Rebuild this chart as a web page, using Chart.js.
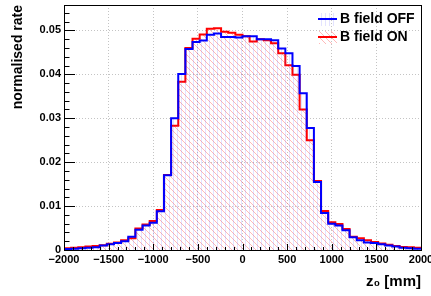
<!DOCTYPE html>
<html>
<head>
<meta charset="utf-8">
<script src="https://cdn.jsdelivr.net/npm/chart.js@4.4.0/dist/chart.umd.min.js"></script>
<style>
  html, body { margin: 0; padding: 0; background: #fff; }
  #wrap { width: 431px; height: 296px; position: relative; }
</style>
</head>
<body>
<div id="wrap"><canvas id="zChart"></canvas></div>
<script>
// Histogram binning (z0 in mm)
const zMin = -2000;
const zMax = 2000;
const binWidth = 80;

// Normalised rate per bin (50 bins)
const bFieldOff = [
  0.0002, 0.0003, 0.0004, 0.0005, 0.0006, 0.0010, 0.0013, 0.0016, 0.0020, 0.0030,
  0.0046, 0.0056, 0.0062, 0.0088, 0.0170, 0.0300, 0.0401, 0.0458, 0.0474, 0.0477,
  0.0490, 0.0493, 0.0485, 0.0485, 0.0484, 0.0487, 0.0487, 0.0480, 0.0480, 0.0478,
  0.0459, 0.0448, 0.0419, 0.0357, 0.0278, 0.0155, 0.0084, 0.0060, 0.0056, 0.0045,
  0.0029, 0.0022, 0.0017, 0.0016, 0.0013, 0.0010, 0.0008, 0.0005, 0.0004, 0.0003
];
const bFieldOn = [
  0.0004, 0.0005, 0.0006, 0.0008, 0.0009, 0.0011, 0.0014, 0.0017, 0.0022, 0.0027,
  0.0049, 0.0058, 0.0066, 0.0091, 0.0171, 0.0283, 0.0383, 0.0460, 0.0481, 0.0491,
  0.0504, 0.0505, 0.0497, 0.0495, 0.0490, 0.0487, 0.0475, 0.0480, 0.0478, 0.0471,
  0.0448, 0.0421, 0.0399, 0.0320, 0.0250, 0.0157, 0.0089, 0.0063, 0.0059, 0.0048,
  0.0030, 0.0027, 0.0022, 0.0018, 0.0015, 0.0012, 0.0009, 0.0007, 0.0006, 0.0005
];
const seriesLabels = ['B field OFF', 'B field ON'];

// Axis ticks
const xMajor = 500, xMinor = 100;
const yMax = 0.0558, yMajor = 0.01, yMinor = 0.002;

const FONT = "'Liberation Sans', Arial, sans-serif";

// points at bin edges, last edge repeats the last bin
function toSteps(values) {
  const pts = values.map((v, i) => ({ x: zMin + i * binWidth, y: v }));
  pts.push({ x: zMax, y: values[values.length - 1] });
  return pts;
}

// hatch fills like ROOT fill styles
function makeHatch(kind, color) {
  const s = kind === 'vertical' ? 4 : 6;
  const c = document.createElement('canvas');
  c.width = s; c.height = s;
  const g = c.getContext('2d');
  g.strokeStyle = color;
  g.lineWidth = 1;
  g.beginPath();
  if (kind === 'vertical') {
    g.moveTo(1.5, 0); g.lineTo(1.5, s);
  } else {
    g.moveTo(0, 0); g.lineTo(s, s);
    g.moveTo(-1, s - 1); g.lineTo(1, s + 1);
    g.moveTo(s - 1, -1); g.lineTo(s + 1, 1);
  }
  g.stroke();
  return g.createPattern(c, 'repeat');
}

const blueHatch = makeHatch('vertical', 'rgba(80,80,255,0.16)');
const redHatch = makeHatch('diag', 'rgba(255,70,70,0.38)');

// no label overhang padding, the frame is placed by hand
function fixBox(size) {
  return (s) => {
    if (s.isHorizontal()) s.height = size; else s.width = size;
    s.paddingLeft = s.paddingRight = s.paddingTop = s.paddingBottom = 0;
  };
}

// frame, inward ticks and legend drawn on top
const rootStyle = {
  id: 'rootStyle',
  afterDraw(chart) {
    const { ctx, chartArea: a, scales: { x, y } } = chart;
    ctx.save();
    ctx.strokeStyle = '#000';
    ctx.lineWidth = 1;
    ctx.beginPath();
    // y ticks
    for (let v = 0; v <= yMax + 1e-9; v += yMinor) {
      const isMajor = Math.abs(v / yMajor - Math.round(v / yMajor)) < 1e-6;
      const py = Math.round(y.getPixelForValue(v)) + 0.5;
      ctx.moveTo(a.left, py);
      ctx.lineTo(a.left + (isMajor ? 11 : 5.5), py);
    }
    // x ticks
    for (let v = zMin; v <= zMax; v += xMinor) {
      const isMajor = v % xMajor === 0;
      const px = Math.round(x.getPixelForValue(v)) + 0.5;
      ctx.moveTo(px, a.bottom);
      ctx.lineTo(px, a.bottom - (isMajor ? 6 : 3));
    }
    ctx.stroke();
    ctx.strokeRect(a.left + 0.5, a.top + 0.5, a.right - a.left, a.bottom - a.top);

    // legend
    const items = [
      { label: seriesLabels[0], color: '#0000ff', fill: blueHatch },
      { label: seriesLabels[1], color: '#ff0000', fill: redHatch }
    ];
    items.forEach((it, i) => {
      const cy = 19 + i * 18;
      ctx.fillStyle = it.fill;
      ctx.fillRect(319, cy - 6, 18, 13);
      ctx.strokeStyle = it.color;
      ctx.lineWidth = 2;
      ctx.beginPath();
      ctx.moveTo(318, cy);
      ctx.lineTo(337, cy);
      ctx.stroke();
      ctx.fillStyle = '#000';
      ctx.font = 'bold 14px ' + FONT;
      ctx.textAlign = 'left';
      ctx.textBaseline = 'middle';
      ctx.fillText(it.label, 340, cy + 0.5);
    });
    ctx.restore();
  }
};

const ctx = document.getElementById('zChart').getContext('2d');
const zChart = new Chart(ctx, {
  type: 'line',
  data: {
    datasets: [
      {
        label: seriesLabels[0],
        data: toSteps(bFieldOff),
        borderColor: '#0000ff',
        backgroundColor: blueHatch,
        borderWidth: 2,
        stepped: true,
        fill: 'origin',
        pointRadius: 0
      },
      {
        label: seriesLabels[1],
        data: toSteps(bFieldOn),
        borderColor: '#ff0000',
        backgroundColor: redHatch,
        borderWidth: 2,
        stepped: true,
        fill: 'origin',
        pointRadius: 0
      }
    ]
  },
  options: {
    responsive: true,
    maintainAspectRatio: false,
    animation: false,
    devicePixelRatio: 1,
    layout: { autoPadding: false, padding: { left: 0, right: 10, top: 5, bottom: 0 } },
    plugins: {
      legend: { display: false },
      tooltip: { enabled: false }
    },
    scales: {
      x: {
        type: 'linear',
        min: zMin,
        max: zMax,
        afterFit: fixBox(46),
        border: { display: false, dash: [1, 2] },
        grid: { color: '#c4c4c4', drawTicks: false },
        ticks: {
          stepSize: xMajor,
          autoSkip: false,
          maxRotation: 0,
          padding: 3,
          color: '#000',
          font: { family: FONT, size: 11, weight: 'bold' },
          callback: (v) => (v < 0 ? '\u2212' + Math.abs(v) : String(v))
        },
        title: {
          display: true,
          text: 'z\u2080 [mm]',
          align: 'end',
          color: '#000',
          font: { family: FONT, size: 15, weight: 'bold' },
          padding: { top: 0, bottom: 5 }
        }
      },
      y: {
        min: 0,
        max: yMax,
        afterFit: fixBox(64),
        border: { display: false, dash: [1, 2] },
        grid: { color: '#c4c4c4', drawTicks: false },
        ticks: {
          stepSize: yMajor,
          includeBounds: false,
          padding: 3,
          color: '#000',
          font: { family: FONT, size: 11, weight: 'bold' },
          callback: (v) => {
            if (Math.abs(v / yMajor - Math.round(v / yMajor)) > 1e-6) return '';
            return v === 0 ? '0' : v.toFixed(2);
          }
        },
        title: {
          display: true,
          text: 'normalised rate',
          align: 'end',
          color: '#000',
          font: { family: FONT, size: 14, weight: 'bold' },
          padding: { top: 10, bottom: 0 }
        }
      }
    }
  },
  plugins: [rootStyle]
});
</script>
</body>
</html>
